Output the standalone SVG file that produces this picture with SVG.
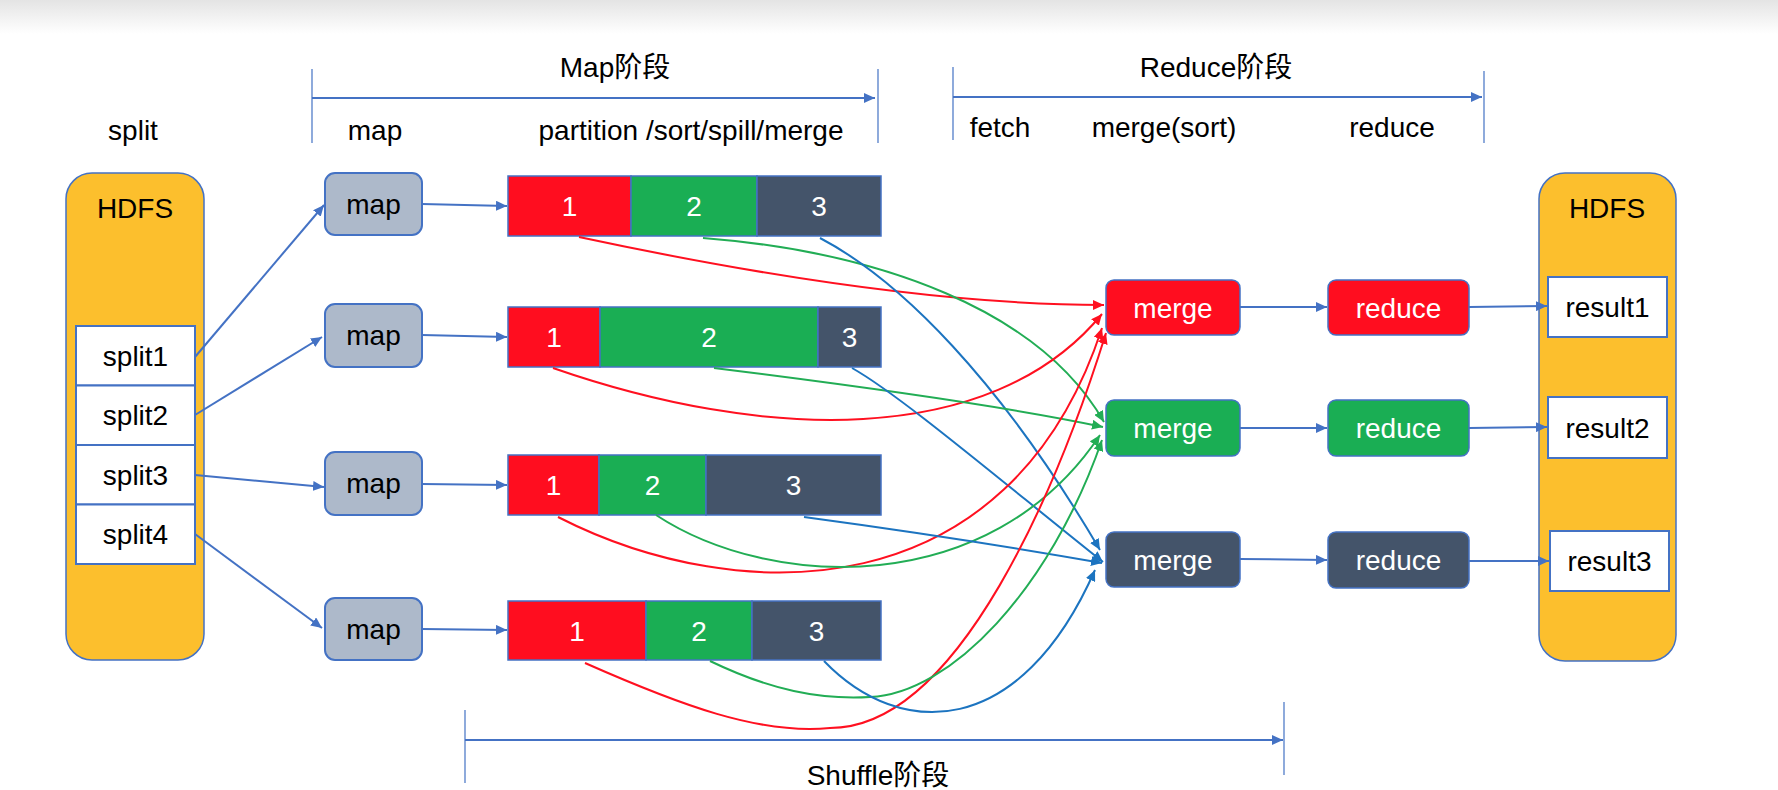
<svg xmlns="http://www.w3.org/2000/svg" width="1778" height="790" viewBox="0 0 1778 790">
<defs>
<linearGradient id="topshade" x1="0" y1="0" x2="0" y2="1">
<stop offset="0" stop-color="#e4e4e4"/>
<stop offset="1" stop-color="#ffffff"/>
</linearGradient>
<marker id="ab" markerUnits="userSpaceOnUse" markerWidth="12" markerHeight="10" refX="11" refY="5" orient="auto"><path d="M0,0 L11,5 L0,10 z" fill="#4472C4"/></marker>
<marker id="ar" markerUnits="userSpaceOnUse" markerWidth="12" markerHeight="10" refX="11" refY="5" orient="auto"><path d="M0,0 L11,5 L0,10 z" fill="#FF1020"/></marker>
<marker id="ag" markerUnits="userSpaceOnUse" markerWidth="12" markerHeight="10" refX="11" refY="5" orient="auto"><path d="M0,0 L11,5 L0,10 z" fill="#22AD55"/></marker>
<marker id="au" markerUnits="userSpaceOnUse" markerWidth="12" markerHeight="10" refX="11" refY="5" orient="auto"><path d="M0,0 L11,5 L0,10 z" fill="#1C74C0"/></marker>
</defs>
<style>
text{font-family:"Liberation Sans","Noto Sans CJK SC",sans-serif;font-size:28px;text-anchor:middle}
.dk{fill:#000}
.wt{fill:#fff}
.hdfs{fill:#FCBF2D;stroke:#4472C4;stroke-width:1.5}
.box{fill:#fff;stroke:#4472C4;stroke-width:2}
.map{fill:#ADB9CA;stroke:#4472C4;stroke-width:2}
.r{fill:#FF0D1F;stroke:#4472C4;stroke-width:1.5}
.g{fill:#1AAE54;stroke:#4472C4;stroke-width:1.5}
.s{fill:#44546A;stroke:#4472C4;stroke-width:1.5}
.ln{fill:none;stroke:#4472C4;stroke-width:2}
.tk{fill:none;stroke:#4472C4;stroke-width:1.2}
.cr{fill:none;stroke:#FF1020;stroke-width:2}
.cg{fill:none;stroke:#22AD55;stroke-width:2}
.cu{fill:none;stroke:#1C74C0;stroke-width:2}
</style>
<rect x="0" y="0" width="1778" height="790" fill="#fff"/>
<rect x="0" y="0" width="1778" height="34" fill="url(#topshade)"/>

<g id="phases">
<text class="dk" x="615" y="77">Map阶段</text>
<line class="tk" x1="312" y1="69" x2="312" y2="143"/>
<line class="tk" x1="878" y1="69" x2="878" y2="143"/>
<line class="ln" x1="312" y1="98" x2="875" y2="98" marker-end="url(#ab)"/>
<text class="dk" x="1216" y="77">Reduce阶段</text>
<line class="tk" x1="953" y1="67" x2="953" y2="140"/>
<line class="tk" x1="1484" y1="71" x2="1484" y2="143"/>
<line class="ln" x1="953" y1="97" x2="1482" y2="97" marker-end="url(#ab)"/>
<text class="dk" x="878" y="785">Shuffle阶段</text>
<line class="tk" x1="465" y1="710" x2="465" y2="783"/>
<line class="tk" x1="1284" y1="702" x2="1284" y2="775"/>
<line class="ln" x1="465" y1="740" x2="1283" y2="740" marker-end="url(#ab)"/>
<text class="dk" x="133" y="140">split</text>
<text class="dk" x="375" y="140">map</text>
<text class="dk" x="691" y="140">partition /sort/spill/merge</text>
<text class="dk" x="1000" y="137">fetch</text>
<text class="dk" x="1164" y="137">merge(sort)</text>
<text class="dk" x="1392" y="137">reduce</text>
</g>

<g id="hdfs-in">
<rect class="hdfs" x="66" y="173" width="138" height="487" rx="26"/>
<text class="dk" x="135" y="218">HDFS</text>
</g>
<g id="split1"><rect class="box" x="76" y="326" width="119" height="59.5"/><text class="dk" x="135.5" y="366">split1</text></g>
<g id="split2"><rect class="box" x="76" y="385.5" width="119" height="59.5"/><text class="dk" x="135.5" y="425">split2</text></g>
<g id="split3"><rect class="box" x="76" y="445" width="119" height="59.5"/><text class="dk" x="135.5" y="485">split3</text></g>
<g id="split4"><rect class="box" x="76" y="504.5" width="119" height="59.5"/><text class="dk" x="135.5" y="544">split4</text></g>

<g id="map1"><rect class="map" x="325" y="173" width="97" height="62" rx="10"/><text class="dk" x="373.5" y="214">map</text></g>
<g id="map2"><rect class="map" x="325" y="304" width="97" height="63" rx="10"/><text class="dk" x="373.5" y="345">map</text></g>
<g id="map3"><rect class="map" x="325" y="452" width="97" height="63" rx="10"/><text class="dk" x="373.5" y="493">map</text></g>
<g id="map4"><rect class="map" x="325" y="598" width="97" height="62" rx="10"/><text class="dk" x="373.5" y="639">map</text></g>

<g id="bar1">
<rect class="r" x="508" y="176" width="123" height="60"/><rect class="g" x="631" y="176" width="126" height="60"/><rect class="s" x="757" y="176" width="124" height="60"/>
<text class="wt" x="569.5" y="216">1</text><text class="wt" x="694" y="216">2</text><text class="wt" x="819" y="216">3</text>
</g>
<g id="bar2">
<rect class="r" x="508" y="307" width="92" height="60"/><rect class="g" x="600" y="307" width="218" height="60"/><rect class="s" x="818" y="307" width="63" height="60"/>
<text class="wt" x="554" y="347">1</text><text class="wt" x="709" y="347">2</text><text class="wt" x="849.5" y="347">3</text>
</g>
<g id="bar3">
<rect class="r" x="508" y="455" width="91" height="60"/><rect class="g" x="599" y="455" width="107" height="60"/><rect class="s" x="706" y="455" width="175" height="60"/>
<text class="wt" x="553.5" y="495">1</text><text class="wt" x="652.5" y="495">2</text><text class="wt" x="793.5" y="495">3</text>
</g>
<g id="bar4">
<rect class="r" x="508" y="601" width="138" height="59"/><rect class="g" x="646" y="601" width="106" height="59"/><rect class="s" x="752" y="601" width="129" height="59"/>
<text class="wt" x="577" y="640.5">1</text><text class="wt" x="699" y="640.5">2</text><text class="wt" x="816.5" y="640.5">3</text>
</g>

<g id="merge1"><rect class="r" x="1106" y="280" width="134" height="55" rx="8"/><text class="wt" x="1173" y="317.5">merge</text></g>
<g id="merge2"><rect class="g" x="1106" y="400" width="134" height="56" rx="8"/><text class="wt" x="1173" y="438">merge</text></g>
<g id="merge3"><rect class="s" x="1106" y="532" width="134" height="55" rx="8"/><text class="wt" x="1173" y="569.5">merge</text></g>
<g id="reduce1"><rect class="r" x="1328" y="280" width="141" height="55" rx="8"/><text class="wt" x="1398.5" y="317.5">reduce</text></g>
<g id="reduce2"><rect class="g" x="1328" y="400" width="141" height="56" rx="8"/><text class="wt" x="1398.5" y="438">reduce</text></g>
<g id="reduce3"><rect class="s" x="1328" y="532" width="141" height="56" rx="8"/><text class="wt" x="1398.5" y="570">reduce</text></g>

<g id="hdfs-out">
<rect class="hdfs" x="1539" y="173" width="137" height="488" rx="26"/>
<text class="dk" x="1607" y="218">HDFS</text>
</g>
<g id="result1"><rect class="box" x="1548" y="277" width="119" height="60"/><text class="dk" x="1607.5" y="317">result1</text></g>
<g id="result2"><rect class="box" x="1548" y="397" width="119" height="61"/><text class="dk" x="1607.5" y="437.5">result2</text></g>
<g id="result3"><rect class="box" x="1550" y="531" width="119" height="60"/><text class="dk" x="1609.5" y="571">result3</text></g>

<g id="connectors">
<line class="ln" x1="195" y1="357" x2="324" y2="205" marker-end="url(#ab)"/>
<line class="ln" x1="195" y1="415" x2="322" y2="337" marker-end="url(#ab)"/>
<line class="ln" x1="195" y1="475" x2="324" y2="487" marker-end="url(#ab)"/>
<line class="ln" x1="195" y1="534" x2="322" y2="628" marker-end="url(#ab)"/>
<line class="ln" x1="422" y1="204" x2="507" y2="206" marker-end="url(#ab)"/>
<line class="ln" x1="422" y1="335" x2="507" y2="337" marker-end="url(#ab)"/>
<line class="ln" x1="422" y1="484" x2="507" y2="485" marker-end="url(#ab)"/>
<line class="ln" x1="422" y1="629" x2="507" y2="630" marker-end="url(#ab)"/>
<line class="ln" x1="1240" y1="307" x2="1327" y2="307" marker-end="url(#ab)"/>
<line class="ln" x1="1240" y1="428" x2="1327" y2="428" marker-end="url(#ab)"/>
<line class="ln" x1="1240" y1="559" x2="1327" y2="560" marker-end="url(#ab)"/>
<line class="ln" x1="1469" y1="307" x2="1547" y2="306" marker-end="url(#ab)"/>
<line class="ln" x1="1469" y1="428" x2="1547" y2="427" marker-end="url(#ab)"/>
<line class="ln" x1="1469" y1="561" x2="1549" y2="561" marker-end="url(#ab)"/>

<path class="cr" d="M579 237 C780 280 960 305 1104 305" marker-end="url(#ar)"/>
<path class="cg" d="M703 238 C880 252 1040 310 1104 422" marker-end="url(#ag)"/>
<path class="cu" d="M820 238 C900 280 1000 380 1100 550" marker-end="url(#au)"/>

<path class="cr" d="M553 368 C760 440 990 450 1102 314" marker-end="url(#ar)"/>
<path class="cg" d="M714 368 C850 385 1000 405 1103 427" marker-end="url(#ag)"/>
<path class="cu" d="M852 368 C900 395 1000 480 1103 562" marker-end="url(#au)"/>

<path class="cr" d="M558 517 C740 610 1010 610 1102 328" marker-end="url(#ar)"/>
<path class="cg" d="M656 515 C770 590 990 600 1100 435" marker-end="url(#ag)"/>
<path class="cu" d="M804 517 C900 530 1000 545 1102 563" marker-end="url(#au)"/>

<path class="cr" d="M585 663 C680 705 760 735 830 728 C960 728 1060 480 1106 333" marker-end="url(#ar)"/>
<path class="cg" d="M710 661 C770 690 820 700 870 697 C950 694 1050 590 1102 440" marker-end="url(#ag)"/>
<path class="cu" d="M824 661 C900 740 1020 740 1095 570" marker-end="url(#au)"/>
</g>
</svg>
